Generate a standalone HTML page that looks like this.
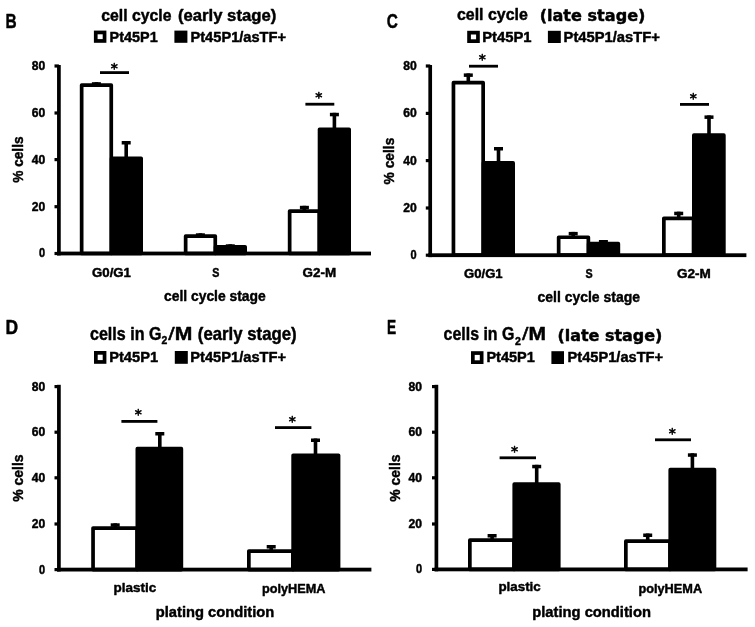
<!DOCTYPE html>
<html lang="en">
<head>
<meta charset="utf-8">
<title>Cell cycle figure</title>
<style>
html,body{margin:0;padding:0;background:#fff;}
body{width:755px;height:627px;overflow:hidden;}
svg{display:block;}
text{fill:#000;stroke:#000;stroke-width:0.45px;stroke-linejoin:round;}
text.st{stroke-width:0.6px;}
</style>
</head>
<body>
<svg width="755" height="627" viewBox="0 0 755 627">
<g>
<rect x="0" y="0" width="755" height="627" fill="#fff"/>
<text transform="translate(5.51 27.50) scale(0.7923 1)" font-family='"Liberation Sans", sans-serif' font-weight="bold" font-size="19.5">B</text>
<text transform="translate(101.30 20.60) scale(0.9406 1)" font-family='"Liberation Sans", sans-serif' font-weight="bold" font-size="16.8">cell cycle</text>
<text transform="translate(177.90 20.60) scale(0.9941 1)" font-family='"Liberation Sans", sans-serif' font-weight="bold" font-size="16.8">(early stage)</text>
<rect x="95.75" y="32.45" width="8.80" height="8.50" fill="#fff" stroke="#000" stroke-width="3.7" />
<text transform="translate(109.60 41.90) scale(1.0097 1)" font-family='"Liberation Sans", sans-serif' font-weight="bold" font-size="14.3">Pt45P1</text>
<rect x="174.40" y="30.60" width="13.00" height="12.20" fill="#000" />
<text transform="translate(190.50 41.90) scale(1.0234 1)" font-family='"Liberation Sans", sans-serif' font-weight="bold" font-size="14.3">Pt45P1/asTF+</text>
<rect x="81.65" y="85.05" width="29.60" height="168.45" fill="#fff" stroke="#000" stroke-width="3.7" stroke-linejoin="round"/>
<rect x="111.55" y="158.35" width="29.60" height="95.15" fill="#000" stroke="#000" stroke-width="3.7" stroke-linejoin="round"/>
<rect x="185.65" y="236.05" width="29.60" height="17.45" fill="#fff" stroke="#000" stroke-width="3.7" stroke-linejoin="round"/>
<rect x="215.55" y="246.85" width="29.60" height="6.65" fill="#000" stroke="#000" stroke-width="3.7" stroke-linejoin="round"/>
<rect x="289.65" y="211.05" width="29.60" height="42.45" fill="#fff" stroke="#000" stroke-width="3.7" stroke-linejoin="round"/>
<rect x="319.55" y="129.35" width="29.60" height="124.15" fill="#000" stroke="#000" stroke-width="3.7" stroke-linejoin="round"/>
<rect x="91.90" y="82.20" width="9.00" height="3.50" fill="#000" />
<rect x="94.60" y="82.20" width="3.60" height="3.80" fill="#000" />
<rect x="121.70" y="141.00" width="9.00" height="3.50" fill="#000" />
<rect x="124.40" y="141.00" width="3.60" height="18.00" fill="#000" />
<rect x="195.90" y="233.30" width="9.00" height="3.50" fill="#000" />
<rect x="198.60" y="233.30" width="3.60" height="4.70" fill="#000" />
<rect x="225.80" y="244.30" width="9.00" height="3.50" fill="#000" />
<rect x="228.50" y="244.30" width="3.60" height="3.70" fill="#000" />
<rect x="299.90" y="205.80" width="9.00" height="3.50" fill="#000" />
<rect x="302.60" y="205.80" width="3.60" height="6.20" fill="#000" />
<rect x="329.90" y="112.80" width="9.00" height="3.50" fill="#000" />
<rect x="332.60" y="112.80" width="3.60" height="17.20" fill="#000" />
<rect x="57.05" y="65.00" width="3.70" height="190.40" fill="#000" />
<rect x="57.05" y="251.60" width="313.95" height="3.80" fill="#000" />
<rect x="54.50" y="64.40" width="4.40" height="3.20" fill="#000" />
<rect x="54.50" y="111.40" width="4.40" height="3.20" fill="#000" />
<rect x="54.50" y="158.00" width="4.40" height="3.20" fill="#000" />
<rect x="54.50" y="205.10" width="4.40" height="3.20" fill="#000" />
<rect x="54.50" y="251.90" width="4.40" height="3.20" fill="#000" />
<text transform="translate(31.70 69.90) scale(0.9790 1)" font-family='"Liberation Sans", sans-serif' font-weight="bold" font-size="12.4">80</text>
<text transform="translate(31.70 116.90) scale(0.9790 1)" font-family='"Liberation Sans", sans-serif' font-weight="bold" font-size="12.4">60</text>
<text transform="translate(31.70 163.50) scale(0.9790 1)" font-family='"Liberation Sans", sans-serif' font-weight="bold" font-size="12.4">40</text>
<text transform="translate(31.70 210.60) scale(0.9790 1)" font-family='"Liberation Sans", sans-serif' font-weight="bold" font-size="12.4">20</text>
<text transform="translate(39.10 257.40) scale(0.8857 1)" font-family='"Liberation Sans", sans-serif' font-weight="bold" font-size="12.4">0</text>
<rect x="100.00" y="71.20" width="29.00" height="2.80" fill="#000" />
<text x="110.80" y="73.30" class="st" font-family='"DejaVu Sans", sans-serif' font-size="14.2">*</text>
<rect x="305.40" y="102.80" width="28.90" height="2.80" fill="#000" />
<text x="315.20" y="102.20" class="st" font-family='"DejaVu Sans", sans-serif' font-size="14.2">*</text>
<text transform="translate(23.30 182.80) rotate(-90) scale(0.9307 1)" font-family='"Liberation Sans", sans-serif' font-weight="bold" font-size="14.7">% cells</text>
<text transform="translate(92.00 276.80) scale(1.0514 1)" font-family='"Liberation Sans", sans-serif' font-weight="bold" font-size="12.6">G0/G1</text>
<text transform="translate(212.20 277.20) scale(0.8500 1)" font-family='"Liberation Sans", sans-serif' font-weight="bold" font-size="12.6">S</text>
<text transform="translate(302.60 276.80) scale(1.0647 1)" font-family='"Liberation Sans", sans-serif' font-weight="bold" font-size="12.6">G2-M</text>
<text transform="translate(164.00 300.70) scale(0.9441 1)" font-family='"Liberation Sans", sans-serif' font-weight="bold" font-size="14.7">cell cycle stage</text>
<text transform="translate(386.80 27.90) scale(0.7857 1)" font-family='"Liberation Sans", sans-serif' font-weight="bold" font-size="19.6">C</text>
<text transform="translate(456.90 19.80) scale(0.9500 1)" font-family='"Liberation Sans", sans-serif' font-weight="bold" font-size="16.8">cell cycle</text>
<text transform="translate(539.67 20.60) scale(1.0314 1)" font-family='"DejaVu Sans", "Liberation Sans", sans-serif' font-weight="bold" font-size="15.6">(late stage)</text>
<rect x="469.05" y="32.65" width="8.90" height="8.50" fill="#fff" stroke="#000" stroke-width="3.7" />
<text transform="translate(482.20 41.70) scale(1.0370 1)" font-family='"Liberation Sans", sans-serif' font-weight="bold" font-size="14.3">Pt45P1</text>
<rect x="547.90" y="30.80" width="12.90" height="12.20" fill="#000" />
<text transform="translate(563.60 41.70) scale(1.0309 1)" font-family='"Liberation Sans", sans-serif' font-weight="bold" font-size="14.3">Pt45P1/asTF+</text>
<rect x="453.45" y="82.65" width="29.70" height="172.55" fill="#fff" stroke="#000" stroke-width="3.7" stroke-linejoin="round"/>
<rect x="483.45" y="162.95" width="29.70" height="92.25" fill="#000" stroke="#000" stroke-width="3.7" stroke-linejoin="round"/>
<rect x="558.65" y="237.25" width="29.70" height="17.95" fill="#fff" stroke="#000" stroke-width="3.7" stroke-linejoin="round"/>
<rect x="588.65" y="243.65" width="29.70" height="11.55" fill="#000" stroke="#000" stroke-width="3.7" stroke-linejoin="round"/>
<rect x="663.85" y="218.35" width="29.70" height="36.85" fill="#fff" stroke="#000" stroke-width="3.7" stroke-linejoin="round"/>
<rect x="693.85" y="135.15" width="30.00" height="120.05" fill="#000" stroke="#000" stroke-width="3.7" stroke-linejoin="round"/>
<rect x="463.80" y="73.40" width="9.00" height="3.50" fill="#000" />
<rect x="466.50" y="73.40" width="3.60" height="10.60" fill="#000" />
<rect x="494.00" y="147.00" width="9.00" height="3.50" fill="#000" />
<rect x="496.70" y="147.00" width="3.60" height="17.00" fill="#000" />
<rect x="568.70" y="231.90" width="9.00" height="3.50" fill="#000" />
<rect x="571.40" y="231.90" width="3.60" height="6.10" fill="#000" />
<rect x="598.90" y="240.00" width="9.00" height="3.50" fill="#000" />
<rect x="601.60" y="240.00" width="3.60" height="5.00" fill="#000" />
<rect x="674.20" y="211.70" width="9.00" height="3.50" fill="#000" />
<rect x="676.90" y="211.70" width="3.60" height="7.30" fill="#000" />
<rect x="704.50" y="115.40" width="9.00" height="3.50" fill="#000" />
<rect x="707.20" y="115.40" width="3.60" height="20.60" fill="#000" />
<rect x="428.35" y="65.00" width="3.70" height="192.10" fill="#000" />
<rect x="428.35" y="253.30" width="318.05" height="3.80" fill="#000" />
<rect x="425.80" y="64.40" width="4.40" height="3.20" fill="#000" />
<rect x="425.80" y="111.80" width="4.40" height="3.20" fill="#000" />
<rect x="425.80" y="159.00" width="4.40" height="3.20" fill="#000" />
<rect x="425.80" y="206.40" width="4.40" height="3.20" fill="#000" />
<rect x="425.80" y="253.60" width="4.40" height="3.20" fill="#000" />
<text transform="translate(403.20 69.90) scale(0.9790 1)" font-family='"Liberation Sans", sans-serif' font-weight="bold" font-size="12.4">80</text>
<text transform="translate(403.20 117.30) scale(0.9790 1)" font-family='"Liberation Sans", sans-serif' font-weight="bold" font-size="12.4">60</text>
<text transform="translate(403.20 164.50) scale(0.9790 1)" font-family='"Liberation Sans", sans-serif' font-weight="bold" font-size="12.4">40</text>
<text transform="translate(403.20 211.90) scale(0.9790 1)" font-family='"Liberation Sans", sans-serif' font-weight="bold" font-size="12.4">20</text>
<text transform="translate(410.60 259.10) scale(0.8857 1)" font-family='"Liberation Sans", sans-serif' font-weight="bold" font-size="12.4">0</text>
<rect x="469.00" y="64.80" width="29.00" height="2.80" fill="#000" />
<text x="478.70" y="63.90" class="st" font-family='"DejaVu Sans", sans-serif' font-size="14.2">*</text>
<rect x="680.00" y="103.00" width="29.00" height="2.80" fill="#000" />
<text x="689.70" y="102.50" class="st" font-family='"DejaVu Sans", sans-serif' font-size="14.2">*</text>
<text transform="translate(393.80 184.40) rotate(-90) scale(0.9388 1)" font-family='"Liberation Sans", sans-serif' font-weight="bold" font-size="14.7">% cells</text>
<text transform="translate(464.00 278.00) scale(1.0433 1)" font-family='"Liberation Sans", sans-serif' font-weight="bold" font-size="12.6">G0/G1</text>
<text transform="translate(585.60 278.40) scale(0.8500 1)" font-family='"Liberation Sans", sans-serif' font-weight="bold" font-size="12.6">S</text>
<text transform="translate(677.00 278.00) scale(1.0744 1)" font-family='"Liberation Sans", sans-serif' font-weight="bold" font-size="12.6">G2-M</text>
<text transform="translate(537.50 302.40) scale(0.9506 1)" font-family='"Liberation Sans", sans-serif' font-weight="bold" font-size="14.7">cell cycle stage</text>
<text transform="translate(5.50 333.90) scale(0.9000 1)" font-family='"Liberation Sans", sans-serif' font-weight="bold" font-size="19.4">D</text>
<text transform="translate(90.00 339.80) scale(0.9131 1)" font-family='"Liberation Sans", sans-serif' font-weight="bold" font-size="17.6">cells in G</text>
<text transform="translate(161.60 344.20) scale(0.9000 1)" font-family='"Liberation Sans", sans-serif' font-weight="bold" font-size="11.6">2</text>
<text transform="translate(168.20 339.80) scale(1.3200 1)" font-family='"Liberation Sans", sans-serif' font-weight="normal" font-size="17.6">/</text>
<text transform="translate(174.80 339.80) scale(1.2000 1)" font-family='"Liberation Sans", sans-serif' font-weight="bold" font-size="17.6">M</text>
<text transform="translate(197.80 339.80) scale(0.9533 1)" font-family='"Liberation Sans", sans-serif' font-weight="bold" font-size="17.6">(early stage)</text>
<rect x="95.85" y="352.85" width="8.70" height="9.10" fill="#fff" stroke="#000" stroke-width="3.7" />
<text transform="translate(109.20 362.00) scale(1.0265 1)" font-family='"Liberation Sans", sans-serif' font-weight="bold" font-size="14.3">Pt45P1</text>
<rect x="174.80" y="351.00" width="13.00" height="12.80" fill="#000" />
<text transform="translate(190.30 362.00) scale(1.0255 1)" font-family='"Liberation Sans", sans-serif' font-weight="bold" font-size="14.3">Pt45P1/asTF+</text>
<rect x="93.05" y="528.05" width="44.00" height="41.55" fill="#fff" stroke="#000" stroke-width="3.7" stroke-linejoin="round"/>
<rect x="137.35" y="448.65" width="44.00" height="120.95" fill="#000" stroke="#000" stroke-width="3.7" stroke-linejoin="round"/>
<rect x="248.85" y="551.05" width="44.00" height="18.55" fill="#fff" stroke="#000" stroke-width="3.7" stroke-linejoin="round"/>
<rect x="293.15" y="455.25" width="45.40" height="114.35" fill="#000" stroke="#000" stroke-width="3.7" stroke-linejoin="round"/>
<rect x="110.70" y="523.30" width="9.00" height="3.50" fill="#000" />
<rect x="113.40" y="523.30" width="3.60" height="6.70" fill="#000" />
<rect x="155.30" y="432.00" width="9.00" height="3.50" fill="#000" />
<rect x="158.00" y="432.00" width="3.60" height="18.00" fill="#000" />
<rect x="266.70" y="545.00" width="9.00" height="3.50" fill="#000" />
<rect x="269.40" y="545.00" width="3.60" height="8.00" fill="#000" />
<rect x="311.00" y="438.50" width="9.00" height="3.50" fill="#000" />
<rect x="313.70" y="438.50" width="3.60" height="17.50" fill="#000" />
<rect x="57.05" y="384.80" width="3.70" height="186.70" fill="#000" />
<rect x="57.05" y="567.70" width="314.35" height="3.80" fill="#000" />
<rect x="54.50" y="385.00" width="4.40" height="3.20" fill="#000" />
<rect x="54.50" y="430.60" width="4.40" height="3.20" fill="#000" />
<rect x="54.50" y="476.20" width="4.40" height="3.20" fill="#000" />
<rect x="54.50" y="522.40" width="4.40" height="3.20" fill="#000" />
<rect x="54.50" y="568.00" width="4.40" height="3.20" fill="#000" />
<text transform="translate(31.70 390.50) scale(0.9790 1)" font-family='"Liberation Sans", sans-serif' font-weight="bold" font-size="12.4">80</text>
<text transform="translate(31.70 436.10) scale(0.9790 1)" font-family='"Liberation Sans", sans-serif' font-weight="bold" font-size="12.4">60</text>
<text transform="translate(31.70 481.70) scale(0.9790 1)" font-family='"Liberation Sans", sans-serif' font-weight="bold" font-size="12.4">40</text>
<text transform="translate(31.70 527.90) scale(0.9790 1)" font-family='"Liberation Sans", sans-serif' font-weight="bold" font-size="12.4">20</text>
<text transform="translate(39.10 573.50) scale(0.8857 1)" font-family='"Liberation Sans", sans-serif' font-weight="bold" font-size="12.4">0</text>
<rect x="121.40" y="420.00" width="36.00" height="2.80" fill="#000" />
<text x="134.70" y="419.00" class="st" font-family='"DejaVu Sans", sans-serif' font-size="14.2">*</text>
<rect x="275.00" y="426.20" width="36.40" height="2.80" fill="#000" />
<text x="288.70" y="426.10" class="st" font-family='"DejaVu Sans", sans-serif' font-size="14.2">*</text>
<text transform="translate(23.30 501.70) rotate(-90) scale(0.9166 1)" font-family='"Liberation Sans", sans-serif' font-weight="bold" font-size="15.2">% cells</text>
<text transform="translate(113.60 592.20) scale(0.9907 1)" font-family='"Liberation Sans", sans-serif' font-weight="bold" font-size="13.6">plastic</text>
<text transform="translate(261.90 592.80) scale(0.9931 1)" font-family='"Liberation Sans", sans-serif' font-weight="bold" font-size="12.8">polyHEMA</text>
<text transform="translate(155.73 616.80) scale(0.9682 1)" font-family='"Liberation Sans", sans-serif' font-weight="bold" font-size="15.2">plating condition</text>
<text transform="translate(386.89 334.00) scale(0.7083 1)" font-family='"Liberation Sans", sans-serif' font-weight="bold" font-size="19.4">E</text>
<text transform="translate(443.60 340.10) scale(0.9053 1)" font-family='"Liberation Sans", sans-serif' font-weight="bold" font-size="17.6">cells in G</text>
<text transform="translate(514.90 344.60) scale(0.9167 1)" font-family='"Liberation Sans", sans-serif' font-weight="bold" font-size="11.6">2</text>
<text transform="translate(522.00 340.10) scale(1.3200 1)" font-family='"Liberation Sans", sans-serif' font-weight="normal" font-size="17.6">/</text>
<text transform="translate(528.61 340.10) scale(1.1923 1)" font-family='"Liberation Sans", sans-serif' font-weight="bold" font-size="17.6">M</text>
<text transform="translate(557.38 340.80) scale(1.0234 1)" font-family='"DejaVu Sans", "Liberation Sans", sans-serif' font-weight="bold" font-size="15.6">(late stage)</text>
<rect x="472.85" y="353.05" width="8.80" height="9.10" fill="#fff" stroke="#000" stroke-width="3.7" />
<text transform="translate(486.40 362.20) scale(1.0181 1)" font-family='"Liberation Sans", sans-serif' font-weight="bold" font-size="14.3">Pt45P1</text>
<rect x="551.40" y="351.20" width="12.60" height="12.80" fill="#000" />
<text transform="translate(567.60 362.20) scale(1.0223 1)" font-family='"Liberation Sans", sans-serif' font-weight="bold" font-size="14.3">Pt45P1/asTF+</text>
<rect x="469.85" y="540.15" width="44.10" height="29.25" fill="#fff" stroke="#000" stroke-width="3.7" stroke-linejoin="round"/>
<rect x="514.25" y="484.15" width="44.50" height="85.25" fill="#000" stroke="#000" stroke-width="3.7" stroke-linejoin="round"/>
<rect x="625.85" y="541.15" width="44.10" height="28.25" fill="#fff" stroke="#000" stroke-width="3.7" stroke-linejoin="round"/>
<rect x="670.25" y="469.65" width="44.20" height="99.75" fill="#000" stroke="#000" stroke-width="3.7" stroke-linejoin="round"/>
<rect x="487.60" y="534.00" width="9.00" height="3.50" fill="#000" />
<rect x="490.30" y="534.00" width="3.60" height="8.00" fill="#000" />
<rect x="532.20" y="464.80" width="9.00" height="3.50" fill="#000" />
<rect x="534.90" y="464.80" width="3.60" height="20.20" fill="#000" />
<rect x="643.20" y="533.50" width="9.00" height="3.50" fill="#000" />
<rect x="645.90" y="533.50" width="3.60" height="8.50" fill="#000" />
<rect x="687.90" y="453.30" width="9.00" height="3.50" fill="#000" />
<rect x="690.60" y="453.30" width="3.60" height="17.70" fill="#000" />
<rect x="434.55" y="384.80" width="3.70" height="186.50" fill="#000" />
<rect x="434.55" y="567.50" width="313.05" height="3.80" fill="#000" />
<rect x="432.00" y="385.00" width="4.40" height="3.20" fill="#000" />
<rect x="432.00" y="430.60" width="4.40" height="3.20" fill="#000" />
<rect x="432.00" y="476.20" width="4.40" height="3.20" fill="#000" />
<rect x="432.00" y="522.40" width="4.40" height="3.20" fill="#000" />
<rect x="432.00" y="567.80" width="4.40" height="3.20" fill="#000" />
<text transform="translate(408.60 390.50) scale(0.9790 1)" font-family='"Liberation Sans", sans-serif' font-weight="bold" font-size="12.4">80</text>
<text transform="translate(408.60 436.10) scale(0.9790 1)" font-family='"Liberation Sans", sans-serif' font-weight="bold" font-size="12.4">60</text>
<text transform="translate(408.60 481.70) scale(0.9790 1)" font-family='"Liberation Sans", sans-serif' font-weight="bold" font-size="12.4">40</text>
<text transform="translate(408.60 527.90) scale(0.9790 1)" font-family='"Liberation Sans", sans-serif' font-weight="bold" font-size="12.4">20</text>
<text transform="translate(416.00 573.30) scale(0.8857 1)" font-family='"Liberation Sans", sans-serif' font-weight="bold" font-size="12.4">0</text>
<rect x="499.60" y="456.40" width="36.40" height="2.80" fill="#000" />
<text x="510.90" y="456.20" class="st" font-family='"DejaVu Sans", sans-serif' font-size="14.2">*</text>
<rect x="655.00" y="438.40" width="36.00" height="2.80" fill="#000" />
<text x="668.70" y="437.90" class="st" font-family='"DejaVu Sans", sans-serif' font-size="14.2">*</text>
<text transform="translate(400.10 501.70) rotate(-90) scale(0.9166 1)" font-family='"Liberation Sans", sans-serif' font-weight="bold" font-size="15.2">% cells</text>
<text transform="translate(498.40 591.40) scale(0.9838 1)" font-family='"Liberation Sans", sans-serif' font-weight="bold" font-size="13.6">plastic</text>
<text transform="translate(638.40 592.80) scale(0.9962 1)" font-family='"Liberation Sans", sans-serif' font-weight="bold" font-size="12.8">polyHEMA</text>
<text transform="translate(532.23 617.40) scale(0.9699 1)" font-family='"Liberation Sans", sans-serif' font-weight="bold" font-size="15.2">plating condition</text>
</g>
</svg>
</body>
</html>
